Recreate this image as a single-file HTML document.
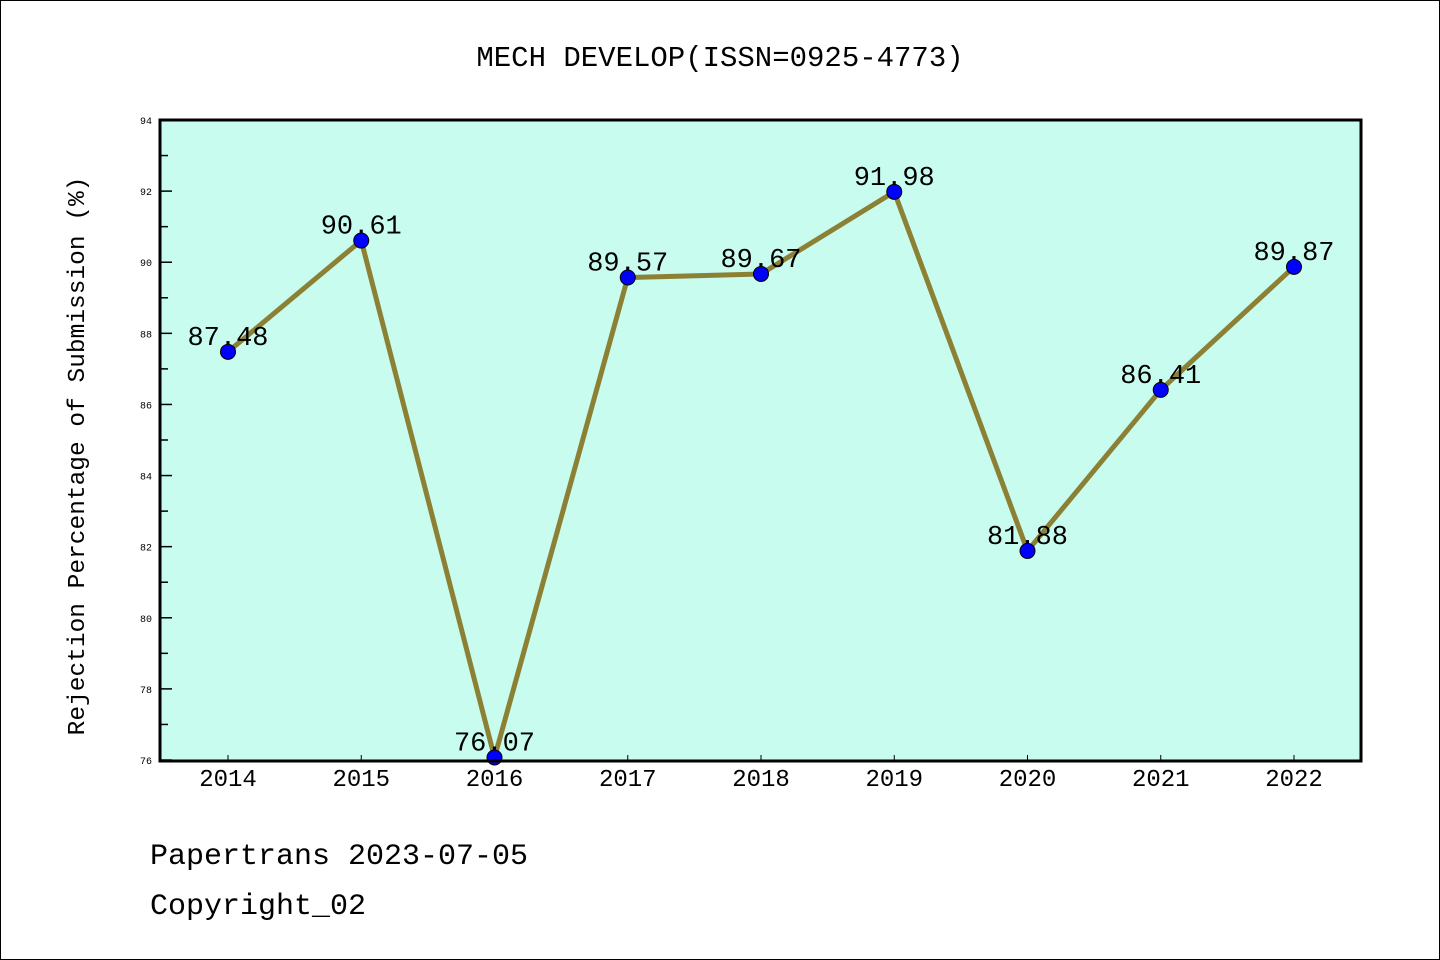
<!DOCTYPE html>
<html><head><meta charset="utf-8"><style>
html,body{margin:0;padding:0;background:#fff}
svg{display:block}
text{font-family:"WenQuanYi Zen Hei","Liberation Mono",monospace}
</style></head><body>
<svg id="chart" width="1440" height="960" xmlns="http://www.w3.org/2000/svg">
<rect x="0.5" y="0.5" width="1439" height="959" fill="#fff" stroke="#000" stroke-width="1"/>
<text x="720" y="66" font-size="29" text-anchor="middle">MECH DEVELOP(ISSN=0925-4773)</text>
<rect x="160" y="120" width="1201" height="641" fill="#c8fcee"/>
<g id="yticks"></g><g id="xticks"></g>
<g id="series"></g>
<rect x="160" y="120" width="1201" height="641" fill="none" stroke="#000" stroke-width="3"/>
<text transform="translate(84,456) rotate(-90)" font-size="24.5" text-anchor="middle">Rejection Percentage of Submission (%)</text>
<text x="150" y="864" font-size="30">Papertrans 2023-07-05</text>
<text x="150" y="914" font-size="30">Copyright_02</text>
</svg>
<script>
const years = ["2014","2015","2016","2017","2018","2019","2020","2021","2022"];
const values = [87.48,90.61,76.07,89.57,89.67,91.98,81.88,86.41,89.87];
const valueLabels = ["87.48","90.61","76.07","89.57","89.67","91.98","81.88","86.41","89.87"];
const yTicks = [76,78,80,82,84,86,88,90,92,94];
const NS="http://www.w3.org/2000/svg";
const yMin=76,yMax=94,plotTop=120,plotBot=760;
function ys(v){return plotBot-(v-yMin)/(yMax-yMin)*(plotBot-plotTop);}
function xs(i){return 228+i*(1294-228)/(years.length-1);}
function mk(tag,attrs,parent){const e=document.createElementNS(NS,tag);for(const k in attrs)e.setAttribute(k,attrs[k]);parent.appendChild(e);return e;}
const yg=document.getElementById('yticks'),xg=document.getElementById('xticks'),sg=document.getElementById('series');
yTicks.forEach((t,i)=>{
  const y=ys(t);
  const l=mk('line',{x1:160,x2:172,y1:y,y2:y,stroke:'#000','stroke-width':1.5},yg);
  
  
  const tx=mk('text',{x:152,y:y+4,'font-size':10,'text-anchor':'end'},yg);
  tx.textContent=t;
  
  
  if(i<yTicks.length-1){
    const ym=ys(t+1);
    const m=mk('line',{x1:160,x2:168,y1:ym,y2:ym,stroke:'#000','stroke-width':1.5},yg);
    
    
  }
});
years.forEach((yr,i)=>{
  const x=xs(i);
  const l=mk('line',{x1:x,x2:x,y1:760,y2:755,stroke:'#000','stroke-width':1},xg);
  
  
  const tx=mk('text',{x:x,y:786,'font-size':24,'text-anchor':'middle'},xg);
  tx.textContent=yr;
  
  
});
const pts=values.map((v,i)=>xs(i)+','+ys(v)).join(' ');
const pl=mk('polyline',{points:pts,fill:'none',stroke:'#8c8035','stroke-width':5,'stroke-linejoin':'round'},sg);


values.forEach((v,i)=>{
  const c=mk('circle',{cx:xs(i),cy:ys(v),r:7.5,fill:'#0000ff',stroke:'#000','stroke-width':1},sg);
  
  
  const t=mk('text',{x:xs(i),y:ys(v)-7,'font-size':27,'text-anchor':'middle'},sg);
  t.textContent=valueLabels[i];
  
  
});
</script>
</body></html>
